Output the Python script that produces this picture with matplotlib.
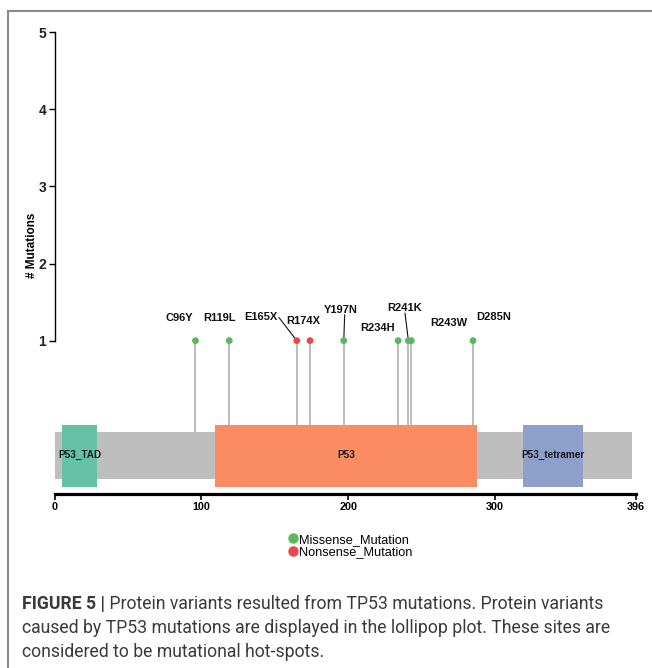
import matplotlib.pyplot as plt
from matplotlib.lines import Line2D
from matplotlib.patches import Rectangle

# TP53 lollipop data
protein_length = 393
axis_max = 396
mutation_labels = ["C96Y", "R119L", "E165X", "R174X", "Y197N", "R234H", "R241K", "R243W", "D285N"]
mutation_pos = [96, 119, 165, 174, 197, 234, 241, 243, 285]
mutation_count = [1, 1, 1, 1, 1, 1, 1, 1, 1]
mutation_class = ["Missense_Mutation", "Missense_Mutation", "Nonsense_Mutation", "Nonsense_Mutation",
                  "Missense_Mutation", "Missense_Mutation", "Missense_Mutation", "Missense_Mutation",
                  "Missense_Mutation"]
domain_names = ["P53_TAD", "P53", "P53_tetramer"]
domain_start = [5, 109, 319]
domain_end = [29, 288, 360]
y_ticks = [1, 2, 3, 4, 5]
x_ticks = [0, 100, 200, 300, 396]
caption_lines = [
    "Protein variants resulted from TP53 mutations. Protein variants",
    "caused by TP53 mutations are displayed in the lollipop plot. These sites are",
    "considered to be mutational hot-spots.",
]

class_colors = {"Missense_Mutation": "#5cb85c", "Nonsense_Mutation": "#e8474c"}
domain_colors = ["#66c2a5", "#fc8d62", "#8da0cb"]

# label placement (repelled positions) and connector starts
label_xy = {
    "C96Y": (85.0, 1.29), "R119L": (112.2, 1.29), "E165X": (140.8, 1.30),
    "R174X": (169.6, 1.26), "Y197N": (195.3, 1.40), "R234H": (220.2, 1.16),
    "R241K": (238.7, 1.42), "R243W": (268.8, 1.225), "D285N": (299.2, 1.31),
}
segment_start = {"E165X": (152.9, 1.298), "Y197N": (197.6, 1.333), "R241K": (238.7, 1.355)}

bold_narrow = ["Liberation Sans Narrow", "Liberation Sans", "DejaVu Sans"]
plt.rcParams["font.family"] = ["Liberation Sans", "DejaVu Sans"]

fig = plt.figure(figsize=(6.52, 6.68), dpi=100)
ax = fig.add_axes([54.5 / 652, 174 / 668, 581.5 / 652, 466 / 668])
ax.set_xlim(0, axis_max)
ax.set_ylim(-0.99, 5.056)

bar_top, bar_bottom = -0.184, -0.794
dom_top, dom_bottom = -0.093, -0.904

ax.add_patch(Rectangle((0, bar_bottom), protein_length, bar_top - bar_bottom,
                       color="#bebebe", lw=0, zorder=1))
for name, s, e, c in zip(domain_names, domain_start, domain_end, domain_colors):
    ax.add_patch(Rectangle((s, dom_bottom), e - s, dom_top - dom_bottom, color=c, lw=0, zorder=3))
    ax.text((s + e) / 2, (bar_top + bar_bottom) / 2, name, ha="center", va="center",
            fontsize=7.2, fontweight="bold", family=bold_narrow, color="#1a1a1a", zorder=4)

ax.vlines(mutation_pos, bar_top, mutation_count, color="#aaaaaa", lw=1.1, zorder=2)
ax.scatter(mutation_pos, mutation_count, c=[class_colors[k] for k in mutation_class],
           s=24, lw=0, zorder=5)

for lab, p, n in zip(mutation_labels, mutation_pos, mutation_count):
    tx, ty = label_xy[lab]
    ax.text(tx, ty, lab, ha="center", va="center", fontsize=8, fontweight="bold", color="#111111")
    if lab in segment_start:
        sx, sy = segment_start[lab]
        ax.plot([sx, p], [sy, n], color="#111111", lw=0.8, zorder=4)

for side in ["top", "right"]:
    ax.spines[side].set_visible(False)
ax.spines["left"].set_bounds(1, 5)
ax.spines["left"].set_linewidth(1.0)
ax.spines["bottom"].set_bounds(0, axis_max)
ax.spines["bottom"].set_linewidth(2.3)

ax.set_yticks(y_ticks)
ax.set_xticks(x_ticks)
ax.tick_params(axis="y", length=4, width=1, labelsize=10, labelcolor="#222222", pad=2)
ax.tick_params(axis="x", length=4, width=1.2, labelsize=7.8, pad=2)
for t in ax.get_yticklabels():
    t.set_fontweight("bold")
for t in ax.get_xticklabels():
    t.set_fontweight("bold")
    t.set_family(bold_narrow)

ax.set_ylabel("# Mutations", fontsize=8.5, fontweight="bold")
ax.yaxis.set_label_coords(-0.028, 0.534)

handles = [Line2D([], [], marker="o", ls="", color=class_colors[k], markersize=6.5, label=k)
           for k in ["Missense_Mutation", "Nonsense_Mutation"]]
fig.legend(handles=handles, loc="center", bbox_to_anchor=(350 / 652, 1 - 546 / 668),
           frameon=False, handletextpad=0.05, labelspacing=0.05, handlelength=0.8,
           fontsize=9.2, borderpad=0)

# panel frame (top and left edges only)
fig.add_artist(Line2D([8 / 652, 1], [1 - 11 / 668, 1 - 11 / 668], color="#8a8a8a", lw=1.5,
                      transform=fig.transFigure))
fig.add_artist(Line2D([8 / 652, 8 / 652], [1 - 11 / 668, 0], color="#8a8a8a", lw=1.5,
                      transform=fig.transFigure))

cap_kw = dict(fontsize=12.7, color="#3a3a3a", family=["Roboto", "Liberation Sans"])
t1 = fig.text(22 / 652, 1 - 613 / 668, "FIGURE 5 |", fontweight="bold", va="bottom", **cap_kw)
ax.annotate(" " + caption_lines[0], xy=(1, 0), xycoords=t1, va="bottom", ha="left",
            annotation_clip=False, **cap_kw)
fig.text(22 / 652, 1 - 637 / 668, caption_lines[1], va="bottom", **cap_kw)
fig.text(22 / 652, 1 - 661 / 668, caption_lines[2], va="bottom", **cap_kw)

fig.savefig("out.png", dpi=100)
